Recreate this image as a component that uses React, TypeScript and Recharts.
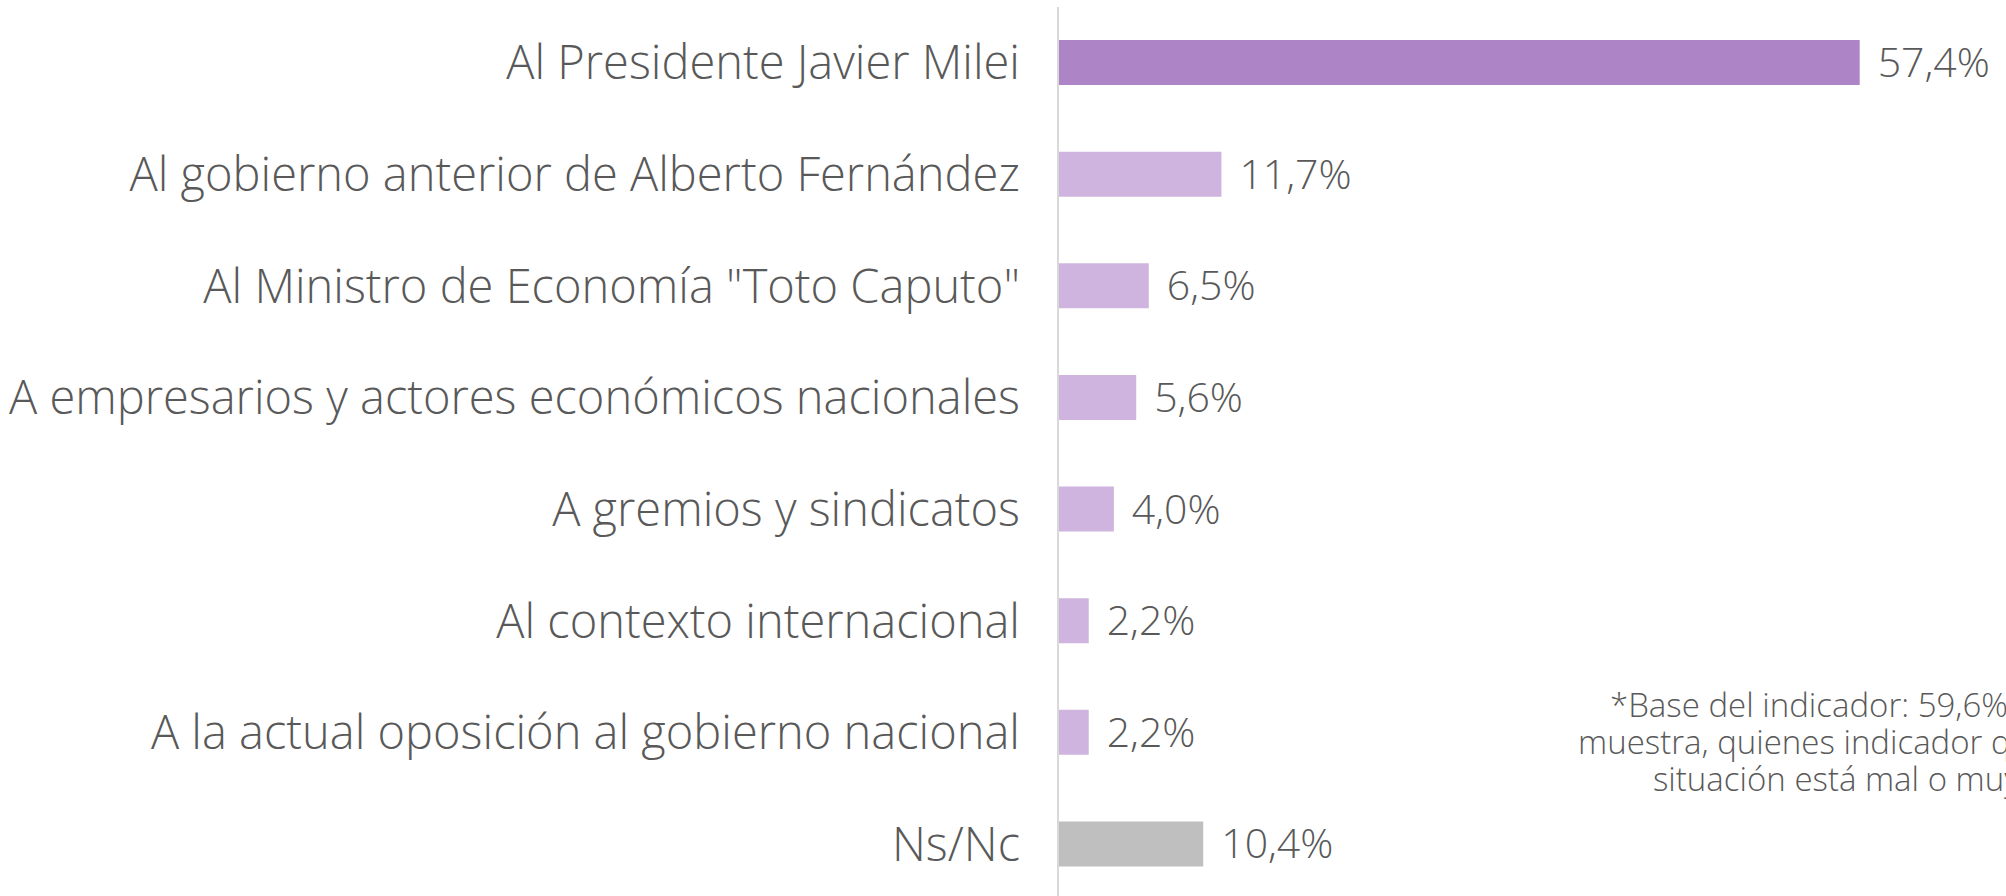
import React from 'react';
import { BarChart, Bar, XAxis, YAxis, Cell, LabelList } from 'recharts';

const categories = [
  'Al Presidente Javier Milei',
  'Al gobierno anterior de Alberto Fernández',
  'Al Ministro de Economía "Toto Caputo"',
  'A empresarios y actores económicos nacionales',
  'A gremios y sindicatos',
  'Al contexto internacional',
  'A la actual oposición al gobierno nacional',
  'Ns/Nc',
];
const values = [57.4, 11.7, 6.5, 5.6, 4.0, 2.2, 2.2, 10.4];
const barColors = ['#AD84C6', '#CEB4DE', '#CEB4DE', '#CEB4DE', '#CEB4DE', '#CEB4DE', '#CEB4DE', '#BFBFBF'];
const noteLines = [
  '*Base del indicador: 59,6% de la',
  'muestra, quienes indicador que la',
  'situación está mal o muy mal',
];
// left edge of each note line (the note is centred in the source and runs off the right edge)
const noteLeft = [1610, 1578, 1653];

const data = categories.map((name, i) => ({ name, value: values[i] }));

const FONT = '"Open Sans", "DejaVu Sans", sans-serif';
const TEXT = '#595959';

const fmt = (v: number) => `${v.toFixed(1).replace('.', ',')}%`;

const App: React.FC = () => {
  return (
    <div style={{ position: 'fixed', top: 0, left: 0, width: 2006, height: 896, overflow: 'hidden', background: '#fff', fontFamily: FONT }}>
      <BarChart
        layout="vertical"
        width={2006}
        height={900}
        data={data}
        margin={{ top: 7, right: 110, bottom: 0, left: 0 }}
      >
        <XAxis type="number" domain={[0, 60]} hide />
        <YAxis
          type="category"
          dataKey="name"
          width={1058}
          tickLine={false}
          tickSize={0}
          tickMargin={38}
          axisLine={{ stroke: '#D9D9D9', strokeWidth: 2 }}
          tick={{ fontSize: 47, fill: TEXT, fontFamily: FONT, fontWeight: 300 }}
          interval={0}
        />
        <Bar dataKey="value" barSize={45} isAnimationActive={false}>
          {data.map((d, i) => (
            <Cell key={`cell-${i}`} fill={barColors[i]} />
          ))}
          <LabelList
            dataKey="value"
            position="right"
            offset={18}
            formatter={(v: any) => fmt(Number(v))}
            style={{ fontSize: 41, fill: TEXT, fontFamily: FONT, fontWeight: 300 }}
          />
        </Bar>
      </BarChart>
      {noteLines.map((l, i) => (
        <div
          key={i}
          style={{ position: 'absolute', top: 686 + i * 37, left: noteLeft[i], fontSize: 33, lineHeight: '37px', color: TEXT, fontWeight: 300, whiteSpace: 'nowrap' }}
        >
          {l}
        </div>
      ))}
    </div>
  );
};

export default App;
